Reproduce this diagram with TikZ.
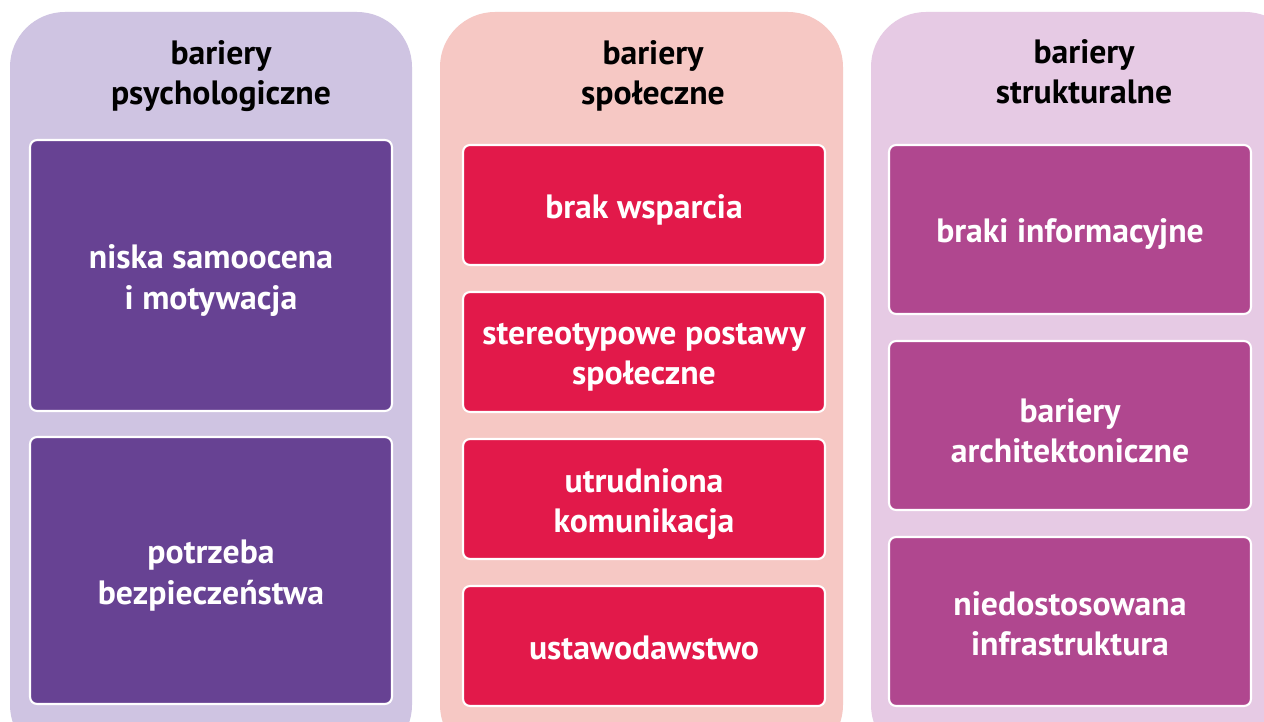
\documentclass[tikz,border=0pt]{standalone}
\usepackage{fontspec}
\setmainfont{PT Sans}
\definecolor{psyback}{HTML}{CFC4E2}
\definecolor{psyfront}{HTML}{674293}
\definecolor{socback}{HTML}{F6C8C4}
\definecolor{socfront}{HTML}{E2194A}
\definecolor{strback}{HTML}{E6CAE4}
\definecolor{strfront}{HTML}{B0478F}

\begin{document}
\begin{tikzpicture}[x=0.02cm,y=-0.02cm,
  panel/.style={rounded corners=1.1cm},
  title/.style={font=\bfseries\fontsize{19.2}{23}\selectfont,align=center,text=black},
  item/.style={draw=white,line width=1.2pt,rounded corners=4pt,minimum width=7.24cm,inner sep=0pt},
  itemtext/.style={text=white,font=\bfseries\fontsize{19.2}{23}\selectfont,align=center,yshift=-0.1cm}]
  \path[use as bounding box] (0,0) rectangle (1264,722);
  \clip (0,0) rectangle (1264,722);
  \fill[white] (0,0) rectangle (1264,722);
  % background panels
  \fill[panel,fill=psyback] (10,12) rectangle (412,760);
  \fill[panel,fill=socback] (440,12) rectangle (843,760);
  \fill[panel,fill=strback] (871,12) rectangle (1300,760);
  % titles
  \node[title] (psy) at (221,76) {bariery\\psychologiczne};
  \node[title] (soc) at (653,76) {bariery\\społeczne};
  \node[title] (str) at (1084,72) {bariery\\strukturalne};
  % psychological
  \node[item,fill=psyfront,minimum height=5.42cm,label={[itemtext]center:niska samoocena\\i motywacja}] (samo) at (211,275.5) {};
  \node[item,fill=psyfront,minimum height=5.34cm,label={[itemtext]center:potrzeba\\bezpieczeństwa}] (bezp) at (211,570.5) {};
  % social
  \node[item,fill=socfront,minimum height=2.4cm,label={[itemtext]center:brak wsparcia}] (wsp) at (644,205) {};
  \node[item,fill=socfront,minimum height=2.4cm,label={[itemtext]center:stereotypowe postawy\\społeczne}] (ster) at (644,352) {};
  \node[item,fill=socfront,minimum height=2.4cm,label={[itemtext]center:utrudniona\\komunikacja}] (kom) at (644,499) {};
  \node[item,fill=socfront,minimum height=2.4cm,label={[itemtext,yshift=0.06cm]center:ustawodawstwo}] (ust) at (644,646) {};
  % structural
  \node[item,fill=strfront,minimum height=3.38cm,label={[itemtext]center:braki informacyjne}] (inf) at (1070,229.5) {};
  \node[item,fill=strfront,minimum height=3.38cm,label={[itemtext]center:bariery\\architektoniczne}] (arch) at (1070,425.5) {};
  \node[item,fill=strfront,minimum height=3.38cm,label={[itemtext,yshift=0.06cm]center:niedostosowana\\infrastruktura}] (infra) at (1070,621.5) {};
\end{tikzpicture}
\end{document}
